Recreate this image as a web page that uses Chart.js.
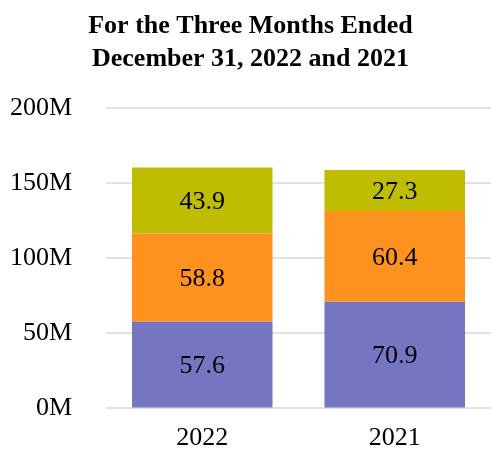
<!DOCTYPE html>
<html>
<head>
<meta charset="utf-8">
<script src="https://cdn.jsdelivr.net/npm/chart.js@4"></script>
<style>
  body { margin: 0; background: #fff; overflow: hidden; }
  #wrap { width: 491px; height: 458px; position: relative; }
</style>
</head>
<body>
<div id="wrap"><canvas id="myChart"></canvas></div>
<script>
// data (millions)
const years = ["2022", "2021"];
const bottomSeg = [57.6, 70.9];
const middleSeg = [58.8, 60.4];
const topSeg = [43.9, 27.3];
const yTicks = [0, 50, 100, 150, 200];

const serif = "'Liberation Serif', 'Times New Roman', serif";

// draws the value in the middle of every bar segment
const barLabels = {
    id: "barLabels",
    afterDatasetsDraw(chart) {
        const ctx = chart.ctx;
        ctx.save();
        ctx.font = "26px " + serif;
        ctx.fillStyle = "#000";
        ctx.textAlign = "center";
        ctx.textBaseline = "middle";
        chart.data.datasets.forEach(function (ds, i) {
            const meta = chart.getDatasetMeta(i);
            meta.data.forEach(function (bar, j) {
                const p = bar.getCenterPoint();
                ctx.fillText(ds.data[j].toFixed(1), p.x, p.y + 2);
            });
        });
        ctx.restore();
    }
};

new Chart(document.getElementById("myChart"), {
    type: "bar",
    data: {
        labels: years,
        datasets: [
            { data: bottomSeg, backgroundColor: "rgb(117, 117, 193)" },
            { data: middleSeg, backgroundColor: "rgb(255, 145, 30)" },
            { data: topSeg, backgroundColor: "rgb(192, 188, 0)" }
        ]
    },
    options: {
        responsive: true,
        maintainAspectRatio: false,
        animation: false,
        layout: { padding: { left: 10, right: 0, top: 10, bottom: 0 } },
        datasets: { bar: { barPercentage: 0.73, categoryPercentage: 1 } },
        scales: {
            x: {
                stacked: true,
                grid: { display: false, drawTicks: false },
                border: { display: false },
                ticks: { color: "#000", font: { family: serif, size: 26 }, padding: 14 },
                afterFit: function (axis) { axis.height = 41.5; }
            },
            y: {
                stacked: true,
                min: 0,
                max: 200,
                afterBuildTicks: function (axis) {
                    axis.ticks = yTicks.map(function (v) { return { value: v }; });
                },
                grid: { color: "#e2e2e2", lineWidth: 2, drawTicks: false },
                border: { display: false },
                ticks: {
                    color: "#000",
                    padding: 34,
                    font: { family: serif, size: 26 },
                    callback: function (v) { return v + "M"; }
                },
                afterFit: function (axis) { axis.width = 96; }
            }
        },
        plugins: {
            legend: { display: false },
            tooltip: { enabled: false },
            title: {
                display: true,
                text: ["For the Three Months Ended", "December 31, 2022 and 2021"],
                color: "#000",
                font: { family: serif, size: 26, weight: "bold", lineHeight: 1.27 },
                padding: { top: 0, bottom: 31.7 }
            }
        }
    },
    plugins: [barLabels]
});
</script>
</body>
</html>
